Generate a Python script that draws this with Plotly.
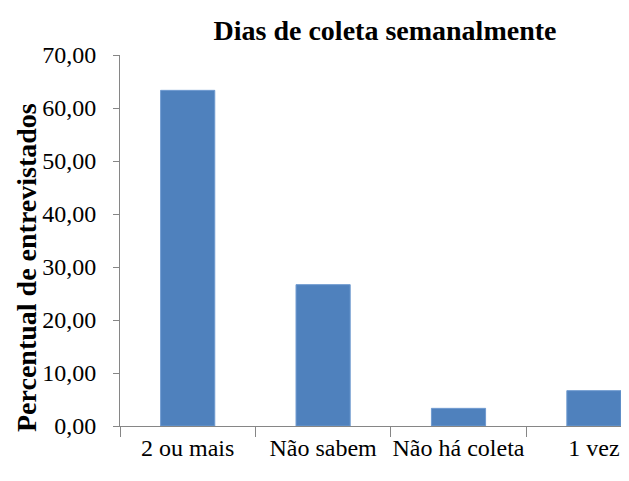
import plotly.graph_objects as go

categories = ["2 ou mais", "Não sabem", "Não há coleta", "1 vez"]
values = [63.33, 26.67, 3.33, 6.67]
y_ticks = [0, 10, 20, 30, 40, 50, 60, 70]
y_tick_labels = ["0,00", "10,00", "20,00", "30,00", "40,00", "50,00", "60,00", "70,00"]

# page body has an 8px margin: figure origin sits at (8, 8) in the screenshot
OFF = 8
W, H = 629 - 2 * OFF, 481 - 2 * OFF
ml, mt = 120 - OFF, 55 - OFF
mr, mb = 0, H - (426 - OFF)
pw, ph = W - ml - mr, H - mt - mb

fig = go.Figure(go.Bar(
    x=categories, y=values, width=0.4,
    marker=dict(color="#4F81BD", line=dict(color="#6F9AD0", width=1)),
))

axis_col = "#868686"
tick_font = dict(family="serif", size=24, color="black")
bold_font = dict(family="Liberation Serif", size=28, color="black")

fig.update_layout(
    width=W, height=H,
    margin=dict(l=ml, r=mr, t=mt, b=mb, autoexpand=False),
    paper_bgcolor="white", plot_bgcolor="white",
    showlegend=False,
    font=dict(family="serif", size=24, color="black"),
    title=dict(text="<b>Dias de coleta semanalmente</b>",
               x=(385 - OFF) / W, xanchor="center", y=1 - (30 - OFF) / H, yanchor="middle",
               font=bold_font),
    xaxis=dict(range=[-0.5, 3.2], showgrid=False, showline=True,
               linecolor=axis_col, linewidth=1, ticks="outside",
               tickson="boundaries", ticklen=10, tickcolor=axis_col,
               tickangle=0, automargin=False, tickfont=tick_font),
    yaxis=dict(range=[0, 70], tickvals=y_ticks, ticktext=y_tick_labels,
               showgrid=False, showline=True, linecolor=axis_col, linewidth=1,
               ticks="outside", ticklen=6, tickcolor=axis_col,
               ticklabelstandoff=12, zeroline=False, automargin=False,
               tickfont=tick_font),
    annotations=[dict(text="<b>Percentual de entrevistados</b>", textangle=-90,
                      xref="paper", yref="paper",
                      x=(26 - 120) / pw, y=(426 - 268) / ph,
                      xanchor="center", yanchor="middle", showarrow=False,
                      font=bold_font)],
)

fig.write_html("out.html")
